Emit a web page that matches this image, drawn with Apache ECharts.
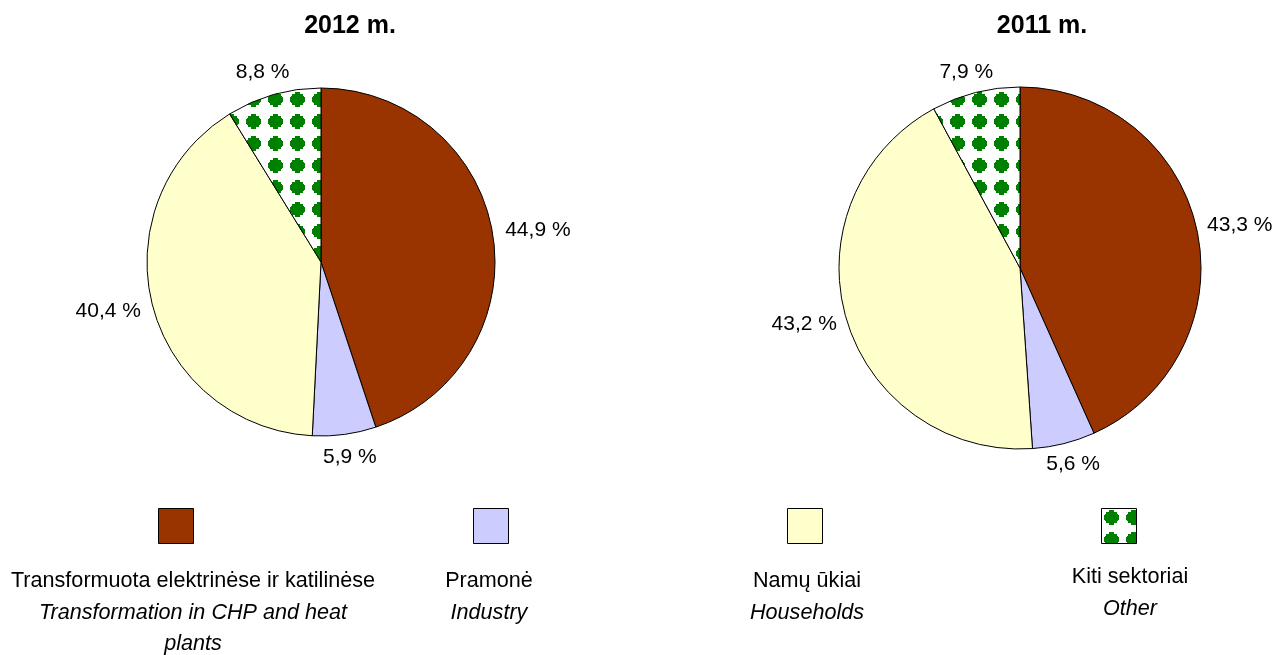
<!DOCTYPE html>
<html><head><meta charset="utf-8">
<script src="https://cdn.jsdelivr.net/npm/echarts@6/dist/echarts.min.js"></script>
<style>html,body{margin:0;padding:0;background:#fff}#c{width:1286px;height:655px}</style>
</head><body><div id="c"></div>
<script>
const categoriesLt = ['Transformuota elektrinėse ir katilinėse', 'Pramonė', 'Namų ūkiai', 'Kiti sektoriai'];
const categoriesEn = ['Transformation in CHP and heat\nplants', 'Industry', 'Households', 'Other'];
const values2012 = [44.9, 5.9, 40.4, 8.8];
const values2011 = [43.3, 5.6, 43.2, 7.9];
const titles = ['2012 m.', '2011 m.'];

const FONT = '"Liberation Sans", Arial, sans-serif';

// tiled pattern for "Other": green stepped diamonds on white
function makePattern() {
  const c = document.createElement('canvas');
  c.width = 22; c.height = 22;
  const g = c.getContext('2d');
  g.fillStyle = '#fff'; g.fillRect(0, 0, 22, 22);
  g.fillStyle = '#008000';
  const rr = [5, 5, 11, 11, 13, 15, 15, 15, 15, 15, 13, 11, 11, 5, 5];
  for (let i = 0; i < rr.length; i++) {
    const w = rr[i];
    g.fillRect(Math.round(11 - w / 2), 4 + i, w, 1);
  }
  return c;
}
const pattern = { image: makePattern(), repeat: 'repeat' };
const colors = ['#993300', '#CCCCFF', '#FFFFCC', pattern];

function fmt(v) { return v.toFixed(1).replace('.', ',') + ' %'; }

function pieSeries(values, center, r, gap) {
  const data = values.map((v, i) => ({ name: categoriesLt[i], value: v, itemStyle: { color: colors[i] } }));
  const mid = r + gap;
  return [{
    type: 'pie', center: center, radius: r, startAngle: 90, clockwise: true,
    silent: true, animation: false,
    label: { show: false }, labelLine: { show: false },
    itemStyle: { borderColor: '#000', borderWidth: 1 },
    data: data
  }, {
    type: 'pie', center: center, radius: [mid - 1, mid + 1], startAngle: 90, clockwise: true,
    silent: true, animation: false,
    itemStyle: { color: 'rgba(0,0,0,0)', borderWidth: 0 },
    label: { show: true, position: 'inside', formatter: p => fmt(p.value),
      color: '#000', fontSize: 21, fontFamily: FONT },
    labelLine: { show: false },
    // push each label box outward so its inner edge touches the anchor point
    labelLayout: function (p) {
      const lr = p.labelRect;
      const lx = lr.x + lr.width / 2, ly = lr.y + lr.height / 2;
      const vx = lx - center[0], vy = ly - center[1];
      const d = Math.sqrt(vx * vx + vy * vy) || 1;
      return { dx: vx / d * lr.width / 2, dy: vy / d * lr.height / 2 };
    },
    data: values.map((v, i) => ({ name: categoriesLt[i], value: v }))
  }];
}

const boxX = [158, 473, 787, 1101];
const textX = [193, 489, 807, 1130];
const textY = [566, 566, 566, 562];

const graphic = [];
graphic.push({ type: 'text', x: 350, y: 26, style: { text: titles[0], font: 'bold 25px ' + FONT, fill: '#000', textAlign: 'center', textVerticalAlign: 'middle' } });
graphic.push({ type: 'text', x: 1042, y: 26, style: { text: titles[1], font: 'bold 25px ' + FONT, fill: '#000', textAlign: 'center', textVerticalAlign: 'middle' } });
for (let i = 0; i < 4; i++) {
  graphic.push({ type: 'rect', shape: { x: boxX[i] + 0.5, y: 508.5, width: 35, height: 35 },
    style: { fill: colors[i], stroke: '#000', lineWidth: 1 } });
  const en = categoriesEn[i].split('\n').map(s => '{b|' + s + '}').join('\n');
  graphic.push({ type: 'text', x: textX[i], y: textY[i], style: {
    text: '{a|' + categoriesLt[i] + '}\n' + en, textAlign: 'center', textVerticalAlign: 'top',
    rich: { a: { fontSize: 21.6, fontFamily: FONT, lineHeight: 31, fill: '#000', align: 'center' },
            b: { fontSize: 21.6, fontFamily: FONT, fontStyle: 'italic', lineHeight: 31, fill: '#000', align: 'center' } }
  } });
}

const chart = echarts.init(document.getElementById('c'), null, { renderer: 'canvas' });
chart.setOption({
  animation: false,
  series: [].concat(
    pieSeries(values2012, [321, 262], 174, 10),
    pieSeries(values2011, [1020, 268], 181, 8)
  ),
  graphic: graphic
});
</script></body></html>
